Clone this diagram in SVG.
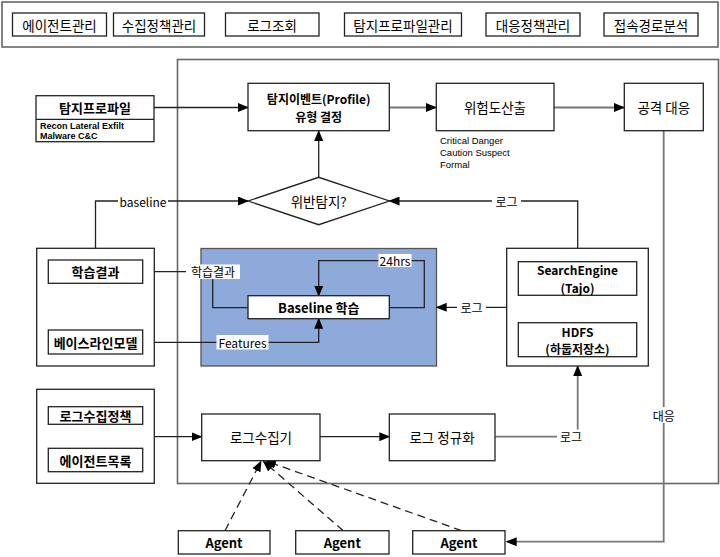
<svg xmlns="http://www.w3.org/2000/svg" width="720" height="557" viewBox="0 0 720 557">
<defs>
<marker id="ah" markerWidth="11" markerHeight="9" refX="10" refY="4.5" orient="auto" markerUnits="userSpaceOnUse"><path d="M0,0 L11,4.5 L0,9 Z" fill="#000"/></marker>
<style>
text{font-family:"Noto Sans CJK KR","Malgun Gothic","Noto Sans",sans-serif;fill:#000;text-anchor:middle;dominant-baseline:central}
.box{fill:#fff;stroke:#222;stroke-width:1.3}
.frame{fill:none;stroke:#666;stroke-width:1.6}
.t{font-size:13.5px}
.b{font-size:13px;font-weight:bold}
.b2{font-size:12px;font-weight:bold}
.s{font-family:"Liberation Sans",Arial,sans-serif;font-size:9px;font-weight:bold;text-anchor:start}
.r{font-family:"Liberation Sans",Arial,sans-serif;font-size:9.5px;text-anchor:start}
.lbl{font-size:12px}
.c{fill:none;stroke:#222;stroke-width:1.3}
.g{fill:none;stroke:#777;stroke-width:1.8}
.d{fill:none;stroke:#222;stroke-width:1.3;stroke-dasharray:8 5}
.bg{fill:#fff}
</style>
</defs>
<rect width="720" height="557" fill="#fff"/>

<g id="menu">
<rect x="2" y="2" width="716" height="45" class="frame"/>
<rect x="12.5" y="13" width="94" height="23" class="box"/><text x="59.5" y="24.5" class="t">에이전트관리</text>
<rect x="113.5" y="13" width="91" height="23" class="box"/><text x="159" y="24.5" class="t">수집정책관리</text>
<rect x="225.5" y="13" width="93.5" height="23" class="box"/><text x="272" y="24.5" class="t">로그조회</text>
<rect x="344.5" y="13" width="117" height="23" class="box"/><text x="403" y="24.5" class="t">탐지프로파일관리</text>
<rect x="486" y="13" width="94" height="23" class="box"/><text x="533" y="24.5" class="t">대응정책관리</text>
<rect x="604" y="13" width="94" height="23" class="box"/><text x="651" y="24.5" class="t">접속경로분석</text>
</g>

<g id="main-frame"><rect x="177.5" y="59.5" width="541" height="424" class="frame"/></g>

<g id="blue-area"><rect x="201" y="248.5" width="235.5" height="117.5" fill="#8EAADB" stroke="#555" stroke-width="1.3"/></g>

<g id="connectors">
<path d="M154,107.5 H248" class="c" marker-end="url(#ah)"/>
<path d="M389.5,107.5 H436" class="g" marker-end="url(#ah)"/>
<path d="M554,107.5 H624" class="g" marker-end="url(#ah)"/>
<path d="M318.7,177 V131" class="c" marker-end="url(#ah)"/>
<path d="M95.5,260 V201 H248" class="c" marker-end="url(#ah)"/>
<rect x="118" y="194" width="50" height="14" class="bg"/>
<text x="143" y="201" class="lbl">baseline</text>
<path d="M577.7,248.5 V201 H389.5" class="c" marker-end="url(#ah)"/>
<rect x="492" y="194" width="29" height="14" class="bg"/>
<text x="506.5" y="201" class="lbl">로그</text>
<path d="M248,307.7 H212.7 V271.7 H142.7" class="c" marker-end="url(#ah)"/>
<rect x="186" y="264.5" width="54" height="14.5" class="bg"/>
<text x="213" y="271.7" class="lbl">학습결과</text>
<path d="M389.5,307.7 H424.3 V260.7 H318.7 V295.7" class="c" marker-end="url(#ah)"/>
<rect x="378.5" y="254" width="33" height="13" class="bg"/>
<text x="395" y="260.7" class="lbl">24hrs</text>
<path d="M142.7,342.3 H318.7 V318.7" class="c" marker-end="url(#ah)"/>
<rect x="216.5" y="335" width="52" height="14.5" class="bg"/>
<text x="242.5" y="342.3" class="lbl">Features</text>
<path d="M506.7,307.3 H436.7" class="c" marker-end="url(#ah)"/>
<rect x="457" y="300" width="29" height="14" class="bg"/>
<text x="471.5" y="307.3" class="lbl">로그</text>
<path d="M577.7,322.7 V295.5" class="c" marker-end="url(#ah)"/>
<path d="M154.3,436.7 H201.5" class="c" marker-end="url(#ah)"/>
<path d="M320,436.7 H389.3" class="c" marker-end="url(#ah)"/>
<path d="M495.3,436.7 H577.7 V366" class="g" marker-end="url(#ah)"/>
<rect x="557" y="429.5" width="29" height="14" class="bg"/>
<text x="571" y="436.7" class="lbl">로그</text>
<path d="M663.7,131 V541.7 H506.7" class="g" marker-end="url(#ah)"/>
<rect x="651" y="407" width="26" height="16" class="bg"/>
<text x="663.7" y="415" class="lbl">대응</text>
<path d="M225,530.7 L261,461.5" class="d" marker-end="url(#ah)"/>
<path d="M343.3,530.7 L263.5,461.5" class="d" marker-end="url(#ah)"/>
<path d="M461.7,530.7 L266,461" class="d" marker-end="url(#ah)"/>
</g>

<g id="profile">
<rect x="36" y="95.7" width="118" height="46" class="box"/>
<line x1="36" y1="119.3" x2="154" y2="119.3" stroke="#222" stroke-width="1.2"/>
<text x="95" y="107.5" class="b">탐지프로파일</text>
<text x="40" y="125.5" class="s">Recon Lateral Exfilt</text>
<text x="40" y="136" class="s">Malware C&amp;C</text>
</g>

<g id="event"><rect x="248" y="83.3" width="141.3" height="47.4" class="box"/>
<text x="318.7" y="98" class="b2">탐지이벤트(Profile)</text>
<text x="318.7" y="116" class="b2">유형 결정</text></g>

<g id="risk"><rect x="436.3" y="83.3" width="117.7" height="47.4" class="box"/>
<text x="495" y="107" class="t">위험도산출</text></g>
<g id="risk-levels">
<text x="440" y="140.7" class="r">Critical Danger</text>
<text x="440" y="152.7" class="r">Caution Suspect</text>
<text x="440" y="164.7" class="r">Formal</text>
</g>

<g id="response"><rect x="624.3" y="83.3" width="79" height="47.4" class="box"/>
<text x="663.8" y="107" class="t">공격 대응</text></g>

<g id="violation"><path d="M248,201 L318.7,177.3 L389.3,201 L318.7,224.7 Z" class="box"/>
<text x="318.7" y="201" class="t">위반탐지?</text></g>

<g id="learn-group">
<rect x="36.7" y="248.3" width="117.6" height="117.7" class="box"/>
<rect x="48.3" y="260" width="94.4" height="23.3" class="box"/>
<text x="95.5" y="271.7" class="b">학습결과</text>
<rect x="48.3" y="330" width="94.4" height="24" class="box"/>
<text x="95.5" y="342" class="b">베이스라인모델</text>
</g>

<g id="baseline-learn"><rect x="248" y="295.7" width="141.3" height="23" class="box"/>
<text x="318.7" y="307.3" class="b">Baseline 학습</text></g>

<g id="storage">
<rect x="506.7" y="248.3" width="141.6" height="117.7" class="box"/>
<rect x="518.3" y="261.7" width="118.4" height="33.6" class="box"/>
<text x="577.5" y="269.5" class="b2">SearchEngine</text>
<text x="577.5" y="287" class="b2">(Tajo)</text>
<rect x="518.3" y="322.7" width="118.4" height="34" class="box"/>
<text x="577.5" y="331" class="b2">HDFS</text>
<text x="577.5" y="348.5" class="b2">(하둡저장소)</text>
</g>

<g id="policy-group">
<rect x="36.7" y="389.3" width="117.6" height="94" class="box"/>
<rect x="48.3" y="406.7" width="94.4" height="17.6" class="box"/>
<text x="95.5" y="415.5" class="b">로그수집정책</text>
<rect x="48.3" y="448.3" width="94.4" height="23.4" class="box"/>
<text x="95.5" y="460" class="b">에이전트목록</text>
</g>

<g id="collector"><rect x="201.7" y="414" width="118.3" height="46.7" class="box"/>
<text x="261" y="437" class="t">로그수집기</text></g>
<g id="normalize"><rect x="389.3" y="414" width="105.7" height="46.7" class="box"/>
<text x="442" y="437" class="t">로그 정규화</text></g>

<g id="agent1"><rect x="178.3" y="530.7" width="91.7" height="23.3" class="box"/><text x="224" y="542.3" class="b">Agent</text></g>
<g id="agent2"><rect x="295.7" y="530.7" width="93.3" height="23.3" class="box"/><text x="342.3" y="542.3" class="b">Agent</text></g>
<g id="agent3"><rect x="412.7" y="530.7" width="92.3" height="23.3" class="box"/><text x="459" y="542.3" class="b">Agent</text></g>
</svg>
